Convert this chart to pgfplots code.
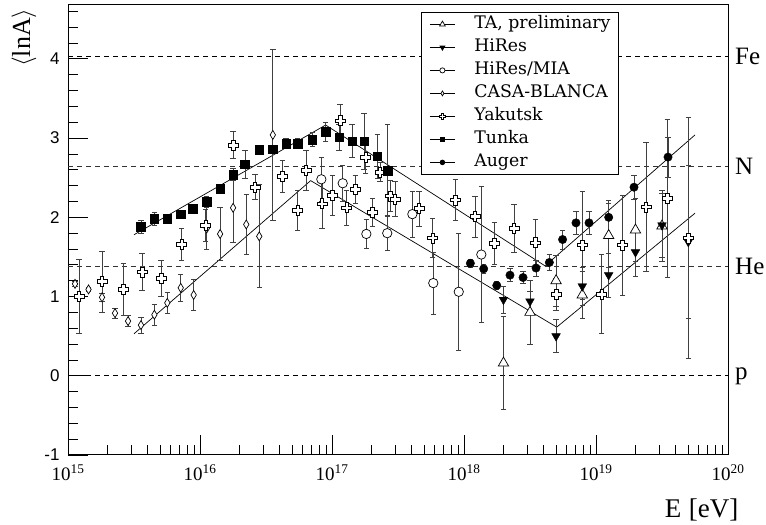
\documentclass[border=0pt]{standalone}
\usepackage{fontspec}
\usepackage{pgfplots}
\pgfplotsset{compat=1.18}
\setmainfont{Liberation Serif}
\newfontfamily\legendfont{DejaVu Serif}
\newfontfamily\ticksans{Liberation Sans}

% hollow "plus" marker (Yakutsk)
\pgfdeclareplotmark{opencross}{%
  \pgfmathsetlengthmacro{\ca}{0.36\pgfplotmarksize}%
  \pgfpathmoveto{\pgfqpoint{-\ca}{\pgfplotmarksize}}%
  \pgfpathlineto{\pgfqpoint{\ca}{\pgfplotmarksize}}%
  \pgfpathlineto{\pgfqpoint{\ca}{\ca}}%
  \pgfpathlineto{\pgfqpoint{\pgfplotmarksize}{\ca}}%
  \pgfpathlineto{\pgfqpoint{\pgfplotmarksize}{-\ca}}%
  \pgfpathlineto{\pgfqpoint{\ca}{-\ca}}%
  \pgfpathlineto{\pgfqpoint{\ca}{-\pgfplotmarksize}}%
  \pgfpathlineto{\pgfqpoint{-\ca}{-\pgfplotmarksize}}%
  \pgfpathlineto{\pgfqpoint{-\ca}{-\ca}}%
  \pgfpathlineto{\pgfqpoint{-\pgfplotmarksize}{-\ca}}%
  \pgfpathlineto{\pgfqpoint{-\pgfplotmarksize}{\ca}}%
  \pgfpathlineto{\pgfqpoint{-\ca}{\ca}}%
  \pgfpathclose
  \pgfusepathqfillstroke
}

\pgfplotsset{
  errstyle/.style={
    error bars/.cd, y dir=both, y explicit,
    error bar style={black!75, line width=0.8bp},
    error mark options={black!75, mark size=2.7bp, line width=0.8bp, rotate=90},
  },
  lineleg/.style={
    legend image code/.code={
      \draw[black, line width=0.8bp] (0bp,0bp) -- (25bp,0bp);
      \draw[##1, every mark/.append style={scale=0.55}] plot coordinates {(12.5bp,0bp)};
    }
  },
}

\begin{document}
\begin{tikzpicture}
\begin{axis}[
  scale only axis, width=660bp, height=450bp,
  xmode=log, xmin=1e15, xmax=1e20, ymin=-1, ymax=4.68,
  clip=false,
  axis line style={line width=1bp},
  tick pos=left, tick align=inside,
  major tick length=20bp, minor tick length=10bp,
  xtick={1e15,1e16,1e17,1e18,1e19,1e20},
  xticklabels={10\textsuperscript{15},10\textsuperscript{16},10\textsuperscript{17},10\textsuperscript{18},10\textsuperscript{19},10\textsuperscript{20}},
  xticklabel style={font=\fontsize{19bp}{21bp}\selectfont, yshift=-6bp},
  ytick={-1,0,1,2,3,4}, yticklabels={-1,0,1,2,3,4},
  minor y tick num=4,
  tick style={black, line width=0.8bp},
  yticklabel style={font=\ticksans\fontsize{17bp}{20bp}\selectfont, xshift=-5bp},
  xlabel={E\;[eV]},
  xlabel style={font=\fontsize{27bp}{29bp}\selectfont, at={(axis description cs:1.021,-0.138)}, anchor=base east},
  ylabel={$\langle$lnA$\rangle$},
  ylabel style={font=\fontsize{26bp}{28bp}\selectfont, at={(axis description cs:-0.0667,1)}, anchor=east, rotate=0},
  legend cell align=left,
  legend style={at={(axis description cs:0.535,0.984)}, anchor=north west,
    draw=black, fill=white, line width=0.8bp,
    font=\legendfont\fontsize{17.3bp}{19bp}\selectfont,
    inner xsep=8bp, inner ysep=3.8bp, row sep=7bp,
    nodes={inner sep=0bp, text height=12.5bp, text depth=3.5bp},
    /tikz/every odd column/.append style={column sep=19bp},
  },
]
% reference levels: p, He, N, Fe
\addplot[forget plot, black, line width=0.8bp, dash pattern=on 5bp off 4bp] coordinates {(1e15,4.025) (1e20,4.025)};
\addplot[forget plot, black!80, line width=0.8bp, dash pattern=on 5bp off 4bp] coordinates {(1e15,2.639) (1e20,2.639)};
\addplot[forget plot, black!80, line width=0.8bp, dash pattern=on 5bp off 4bp] coordinates {(1e15,1.386) (1e20,1.386)};
\addplot[forget plot, black, line width=0.8bp, dash pattern=on 5bp off 4bp] coordinates {(1e15,0) (1e20,0)};

% model bands (broken lines)
\addplot[forget plot, black, line width=0.7bp] coordinates {
  (3.16e15,1.78) (8.95e16,3.165) (4.11e18,1.387) (5.62e19,3.04)};
\addplot[forget plot, black, line width=0.7bp] coordinates {
  (3.16e15,0.53) (6.89e16,2.463) (5.04e18,0.614) (5.62e19,2.052)};

% TA, preliminary
\addplot[only marks, lineleg, mark=triangle*, mark size=6bp,
  mark options={fill=white, draw=black, line width=0.7bp}, errstyle]
  coordinates {
  (1.99e18,0.16) +- (0,0.59)
  (3.16e18,0.80) +- (0,0.40)
  (4.98e18,1.20) +- (0,0.32)
  (7.87e18,1.02) +- (0,0.30)
  (1.247e19,1.77) +- (0,0.40)
  (1.99e19,1.84) +- (0,0.40)
  (3.16e19,1.89) +- (0,0.45)
};
\addlegendentry{TA, preliminary}

% HiRes
\addplot[only marks, lineleg, mark=triangle*, mark size=5bp,
  mark options={fill=black, draw=black, rotate=180}, errstyle]
  coordinates {
  (1.99e18,0.96) +- (0,0.17)
  (3.16e18,0.94) +- (0,0.13)
  (4.98e18,0.50) +- (0,0.21)
  (7.87e18,1.13) +- (0,0.24)
  (1.247e19,1.27) +- (0,0.28)
  (1.99e19,1.56) +- (0,0.30)
  (3.16e19,1.90) +- (0,0.40)
  (5.00e19,1.69) +- (0,0.96)
};
\addlegendentry{HiRes}

% HiRes/MIA
\addplot[only marks, lineleg, mark=*, mark size=4.7bp,
  mark options={fill=white, draw=black, line width=0.7bp}, errstyle]
  coordinates {
  (8.30e16,2.48) +- (0,0.28)
  (1.205e17,2.43) +- (0,0.23)
  (1.82e17,1.79) +- (0,0.18)
  (2.62e17,1.80) +- (0,0.22)
  (4.06e17,2.04) +- (0,0.29)
  (5.85e17,1.17) +- (0,0.39)
  (9.12e17,1.06) +- (0,0.74)
  (1.352e18,1.53) +- (0,0.86)
};
\addlegendentry{HiRes/MIA}

% CASA-BLANCA
\addplot[only marks, lineleg, mark=diamond*, mark size=4.5bp,
  mark options={fill=white, draw=black, line width=0.7bp, xscale=0.8}, errstyle]
  coordinates {
  (1.13e15,1.16) +- (0,0.03)
  (1.43e15,1.09) +- (0,0.03)
  (1.81e15,0.99) +- (0,0.05)
  (2.27e15,0.79) +- (0,0.06)
  (2.85e15,0.69) +- (0,0.07)
  (3.57e15,0.64) +- (0,0.10)
  (4.51e15,0.77) +- (0,0.13)
  (5.65e15,0.92) +- (0,0.13)
  (7.14e15,1.11) +- (0,0.17)
  (8.95e15,1.02) +- (0,0.20)
  (1.125e16,1.86) +- (0,0.27)
  (1.42e16,1.79) +- (0,0.33)
  (1.78e16,2.12) +- (0,0.44)
  (2.24e16,1.91) +- (0,0.38)
  (2.81e16,1.76) +- (0,0.65)
  (3.56e16,3.04) +- (0,1.08)
};
\addlegendentry{CASA-BLANCA}

% Yakutsk
\addplot[only marks, lineleg, mark=opencross, mark size=5bp,
  mark options={fill=white, draw=black, line width=0.7bp}, errstyle]
  coordinates {
  (1.21e15,1.00) +- (0,0.47)
  (1.81e15,1.19) +- (0,0.385)
  (2.62e15,1.09) +- (0,0.33)
  (3.64e15,1.31) +- (0,0.23)
  (5.07e15,1.23) +- (0,0.23)
  (7.26e15,1.66) +- (0,0.20)
  (1.104e16,1.90) +- (0,0.20)
  (1.78e16,2.91) +- (0,0.17)
  (2.61e16,2.38) +- (0,0.16)
  (4.21e16,2.52) +- (0,0.20)
  (5.50e16,2.09) +- (0,0.25)
  (6.35e16,2.59) +- (0,0.25)
  (8.39e16,2.17) +- (0,0.31)
  (1.007e17,2.28) +- (0,0.25)
  (1.151e17,3.22) +- (0,0.21)
  (1.291e17,2.12) +- (0,0.22)
  (1.503e17,2.35) +- (0,0.18)
  (1.80e17,2.76) +- (0,0.20)
  (2.02e17,2.06) +- (0,0.18)
  (2.31e17,2.57) +- (0,0.12)
  (2.78e17,2.27) +- (0,0.19)
  (3.00e17,2.23) +- (0,0.22)
  (4.56e17,2.11) +- (0,0.22)
  (5.79e17,1.74) +- (0,0.25)
  (8.59e17,2.22) +- (0,0.26)
  (1.211e18,2.01) +- (0,0.26)
  (1.70e18,1.67) +- (0,0.26)
  (2.39e18,1.86) +- (0,0.30)
  (3.47e18,1.68) +- (0,0.30)
  (4.98e18,1.03) +- (0,0.20)
  (7.87e18,1.65) +- (0,0.68)
  (1.104e19,1.03) +- (0,0.50)
  (1.59e19,1.65) +- (0,0.63)
  (2.39e19,2.13) +- (0,0.81)
  (3.47e19,2.24) +- (0,1.00)
  (5.00e19,1.74) +- (0,1.52)
};
\addlegendentry{Yakutsk}

% Tunka
\addplot[only marks, lineleg, mark=square*, mark size=4.3bp,
  mark options={fill=black, draw=black}, errstyle]
  coordinates {
  (3.57e15,1.88) +- (0,0.08)
  (4.51e15,1.98) +- (0,0.08)
  (5.65e15,1.98) +- (0,0.04)
  (7.14e15,2.04) +- (0,0.04)
  (8.81e15,2.11) +- (0,0.04)
  (1.125e16,2.20) +- (0,0.06)
  (1.42e16,2.36) +- (0,0.06)
  (1.78e16,2.54) +- (0,0.08)
  (2.19e16,2.67) +- (0,0.18)
  (2.81e16,2.85) +- (0,0.05)
  (3.56e16,2.86) +- (0,0.05)
  (4.49e16,2.93) +- (0,0.06)
  (5.50e16,2.93) +- (0,0.06)
  (7.10e16,2.98) +- (0,0.09)
  (8.95e16,3.08) +- (0,0.12)
  (1.13e17,3.01) +- (0,0.16)
  (1.42e17,2.96) +- (0,0.21)
  (1.75e17,2.96) +- (0,0.35)
  (2.20e17,2.77) +- (0,0.28)
  (2.64e17,2.59) +- (0,0.58)
};
\addlegendentry{Tunka}

% Auger
\addplot[only marks, lineleg, mark=*, mark size=4.2bp,
  mark options={fill=black, draw=black}, errstyle]
  coordinates {
  (1.117e18,1.42) +- (0,0.05)
  (1.409e18,1.35) +- (0,0.06)
  (1.77e18,1.14) +- (0,0.05)
  (2.23e18,1.27) +- (0,0.08)
  (2.80e18,1.24) +- (0,0.08)
  (3.51e18,1.36) +- (0,0.10)
  (4.43e18,1.43) +- (0,0.10)
  (5.58e18,1.72) +- (0,0.12)
  (7.05e18,1.93) +- (0,0.15)
  (8.85e18,1.93) +- (0,0.15)
  (1.247e19,2.00) +- (0,0.21)
  (1.94e19,2.38) +- (0,0.15)
  (3.51e19,2.76) +- (0,0.25)
};
\addlegendentry{Auger}

% tick marks along the frame (decade ticks longer than sub-decade ticks)
\pgfplotsinvokeforeach{1e16,1e17,1e18,1e19}{
  \draw[black, line width=0.8bp] (axis cs:#1,-1) -- ++(0bp,11bp);}
\pgfplotsinvokeforeach{2e15,3e15,4e15,5e15,6e15,7e15,8e15,9e15,
                       2e16,3e16,4e16,5e16,6e16,7e16,8e16,9e16,
                       2e17,3e17,4e17,5e17,6e17,7e17,8e17,9e17,
                       2e18,3e18,4e18,5e18,6e18,7e18,8e18,9e18,
                       2e19,3e19,4e19,5e19,6e19,7e19,8e19,9e19}{
  \draw[black, line width=0.8bp] (axis cs:#1,-1) -- ++(0bp,6.5bp);}
\pgfplotsinvokeforeach{0,1,2,3,4}{
  \draw[black, line width=0.8bp] (axis cs:1e15,#1) -- ++(20bp,0bp);}
\pgfplotsinvokeforeach{-0.8,-0.6,-0.4,-0.2,0.2,0.4,0.6,0.8,1.2,1.4,1.6,1.8,
                       2.2,2.4,2.6,2.8,3.2,3.4,3.6,3.8,4.2,4.4,4.6}{
  \draw[black, line width=0.8bp] (axis cs:1e15,#1) -- ++(10bp,0bp);}

% element labels at the right edge
\begin{scope}[every node/.style={anchor=west, inner sep=0bp, xshift=7bp, font=\fontsize{25bp}{27bp}\selectfont}]
\node at (axis cs:1e20,4.025) {Fe};
\node at (axis cs:1e20,2.639) {N};
\node at (axis cs:1e20,1.386) {He};
\node at (axis cs:1e20,0) {p};
\end{scope}
\end{axis}
\useasboundingbox (-68bp,-68bp) rectangle (698bp,455bp);
\end{tikzpicture}
\end{document}
